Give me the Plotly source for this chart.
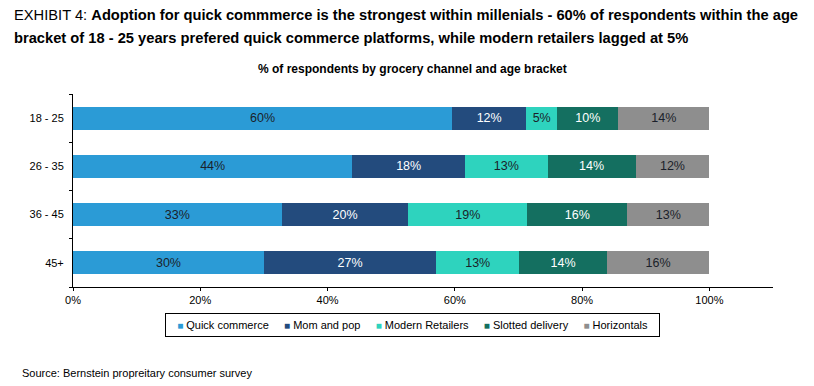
import plotly.graph_objects as go

age_brackets = ["18 - 25", "26 - 35", "36 - 45", "45+"]
quick_commerce = [59.6, 43.9, 32.8, 30.0]
mom_and_pop = [11.6, 17.7, 19.9, 27.1]
modern_retailers = [4.9, 13.0, 18.7, 13.0]
slotted_delivery = [9.6, 13.8, 15.7, 13.8]
horizontals = [14.3, 11.6, 12.9, 16.1]
channel_names = ["Quick commerce", "Mom and pop", "Modern Retailers", "Slotted delivery", "Horizontals"]
channel_values = [quick_commerce, mom_and_pop, modern_retailers, slotted_delivery, horizontals]

# styles (kept separate from data)
bar_colors = ["#2B9BD6", "#234B7D", "#2ED3BE", "#146F60", "#8E8E8E"]
label_colors = ["#1b1f2a", "#ffffff", "#1b1f2a", "#ffffff", "#1b1f2a"]

# page body has an 8px margin; size the figure so it fills the rest of the 814x386 window
OFF = 8
W, H = 806, 378
L, T = 73 - OFF, 94 - OFF
R = W - (773 - OFF)
B = H - (287 - OFF)
PW, PH = W - L - R, H - T - B


def px_x(px):
    return (px - OFF - L) / PW


def px_y(py):
    return (H - B - (py - OFF)) / PH


fig = go.Figure()
for name, vals, color, tcolor in zip(channel_names, channel_values, bar_colors, label_colors):
    fig.add_trace(go.Bar(
        y=age_brackets, x=vals, name=name, orientation="h",
        marker=dict(color=color, line=dict(width=0)),
        text=[f"{v:.0f}%" for v in vals], textposition="inside",
        insidetextanchor="middle", textangle=0, constraintext="none",
        textfont=dict(family="Liberation Sans, Arial", size=12.5, color=tcolor),
        hoverinfo="skip", showlegend=False,
    ))

TITLE_FONT = "Liberation Sans, Arial, sans-serif"

fig.update_layout(
    width=W, height=H, barmode="stack", bargap=0.52,
    margin=dict(l=L, r=R, t=T, b=B, autoexpand=False),
    paper_bgcolor="white", plot_bgcolor="white",
    font=dict(family="Liberation Sans, Arial", size=11, color="#000000"),
    xaxis=dict(range=[0, 110], tickvals=[0, 20, 40, 60, 80, 100],
               ticktext=["0%", "20%", "40%", "60%", "80%", "100%"],
               showgrid=False, zeroline=False, showline=True, linecolor="#000000",
               linewidth=1, ticks="outside", ticklen=3, tickcolor="#000000",
               tickfont=dict(size=11), fixedrange=True),
    yaxis=dict(categoryorder="array", categoryarray=age_brackets[::-1],
               showgrid=False, zeroline=False, showline=True, linecolor="#000000",
               linewidth=1, ticks="outside", ticklen=3, tickcolor="#000000",
               tickson="boundaries", tickfont=dict(size=11), ticklabelstandoff=6,
               fixedrange=True),
    showlegend=False,
)

# legend built as one boxed text line from the series names and colours
NB = "\u00a0"
legend_parts = [
    f"<span style='color:{c};font-size:10px'>■</span>{NB}{n}" for n, c in zip(channel_names, bar_colors)
]
legend_text = NB * 2 + (NB * 5).join(legend_parts) + NB * 2
fig.add_annotation(
    text=legend_text, xref="paper", yref="paper", x=px_x(412.5), y=px_y(325),
    xanchor="center", yanchor="middle", showarrow=False,
    bordercolor="#000000", borderwidth=1, borderpad=5,
    font=dict(size=11, color="#000000"))

fig.add_annotation(
    text="EXHIBIT 4: <b>Adoption for quick commmerce is the strongest within millenials - 60% of respondents within the age</b>",
    xref="paper", yref="paper", x=px_x(12), y=px_y(14.5), xanchor="left", yanchor="middle",
    showarrow=False, font=dict(family=TITLE_FONT, size=14.7, color="#000000"))
fig.add_annotation(
    text="<b>bracket of 18 - 25 years prefered quick commerce platforms, while modern retailers lagged at 5%</b>",
    xref="paper", yref="paper", x=px_x(12), y=px_y(37.5), xanchor="left", yanchor="middle",
    showarrow=False, font=dict(family=TITLE_FONT, size=14.7, color="#000000"))
fig.add_annotation(
    text="<b>% of respondents by grocery channel and age bracket</b>",
    xref="paper", yref="paper", x=px_x(412), y=px_y(69), xanchor="center", yanchor="middle",
    showarrow=False, font=dict(size=12, color="#000000"))
fig.add_annotation(
    text="Source: Bernstein propreitary consumer survey",
    xref="paper", yref="paper", x=px_x(20), y=px_y(373), xanchor="left", yanchor="middle",
    showarrow=False, font=dict(size=11, color="#000000"))

fig.write_html("out.html", config={"displayModeBar": False})
